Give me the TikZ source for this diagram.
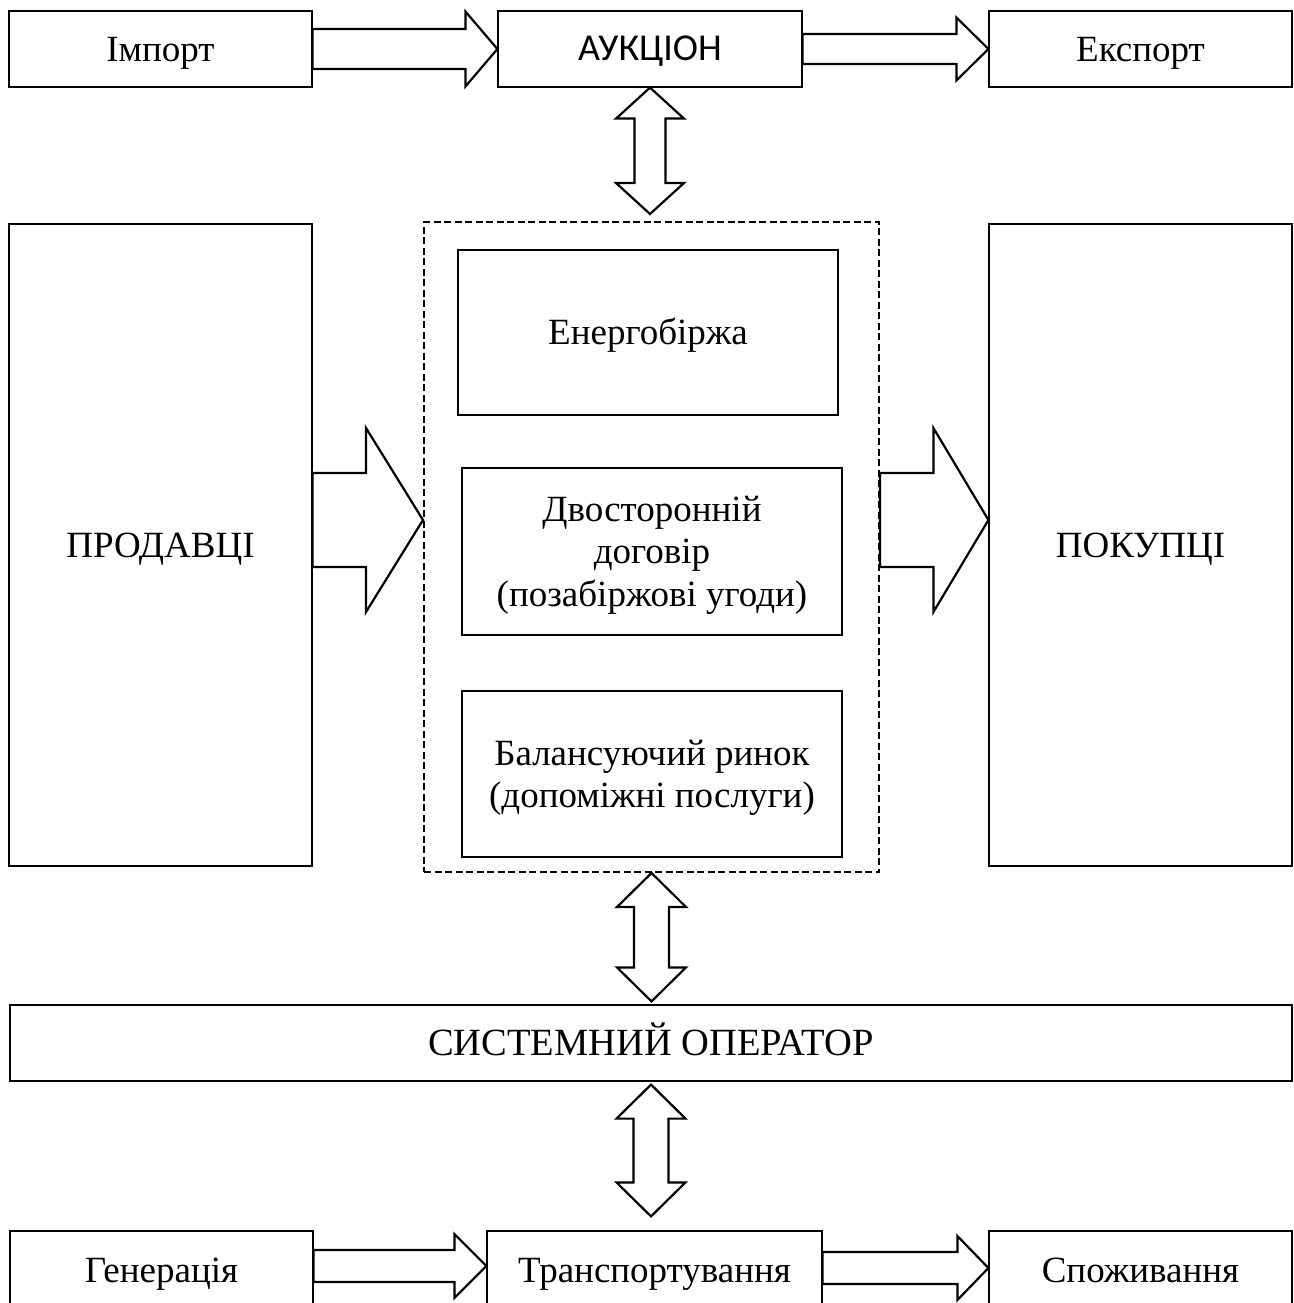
\documentclass[tikz,border=0pt]{standalone}
\usepackage{fontspec}
\setmainfont{Liberation Serif}
\newfontfamily\calib{Carlito}
\usetikzlibrary{calc}
\tikzset{
  box/.style={draw, line width=1.2pt, inner sep=0pt, align=center,
    font=\fontsize{37}{42.5}\selectfont, text height=24.5pt, text depth=0pt},
  twoline/.style={text height=67pt},
  threeline/.style={text height=109.5pt},
  hollow/.style={draw, line width=2.2pt, line join=miter, fill=white},
  dashbox/.style={draw, line width=2pt, dash pattern=on 7pt off 3.5pt, inner sep=0pt}
}
% horizontal hollow arrow: #1 start, #2 tip, #3 shaft half, #4 head half, #5 head length
\newcommand\harrow[5]{%
  \draw[hollow] let \p1=(#1), \p2=(#2) in
  (\x1,\y2+#3pt) -- (\x2-#5pt,\y2+#3pt) -- (\x2-#5pt,\y2+#4pt) -- (\x2,\y2)
  -- (\x2-#5pt,\y2-#4pt) -- (\x2-#5pt,\y2-#3pt) -- (\x1,\y2-#3pt) -- cycle;}
% vertical double hollow arrow: #1 top tip, #2 bottom tip, #3 shaft half, #4 head half, #5 head length
\newcommand\vdarrow[5]{%
  \draw[hollow] let \p1=(#1), \p2=(#2) in
  (\x1,\y1) -- (\x1+#4pt,\y1-#5pt) -- (\x1+#3pt,\y1-#5pt) -- (\x1+#3pt,\y2+#5pt)
  -- (\x1+#4pt,\y2+#5pt) -- (\x1,\y2) -- (\x1-#4pt,\y2+#5pt) -- (\x1-#3pt,\y2+#5pt)
  -- (\x1-#3pt,\y1-#5pt) -- (\x1-#4pt,\y1-#5pt) -- cycle;}
\begin{document}
\begin{tikzpicture}[x=1pt,y=-1pt]
\useasboundingbox[fill=white] (0,0) rectangle (1293,1303);
% top row
\node[box, minimum width=303pt, minimum height=76pt] (imp) at (160.5,49) {Імпорт};
\node[box, minimum width=304pt, minimum height=76pt, font=\calib\fontsize{38}{42}\selectfont, text height=23pt] (auk) at (650,49) {АУКЦІОН};
\node[box, minimum width=303pt, minimum height=76pt] (exp) at (1140.5,49) {Експорт};
% middle
\node[box, minimum width=303pt, minimum height=642pt] (prod) at (160.5,545) {ПРОДАВЦІ};
\node[box, minimum width=303pt, minimum height=642pt] (pok) at (1140.5,545) {ПОКУПЦІ};
\node[dashbox, minimum width=455pt, minimum height=650pt] (dash) at (651.5,547) {};
\node[box, minimum width=380pt, minimum height=165pt] (en) at (648,332.5) {Енергобіржа};
\node[box, threeline, minimum width=380pt, minimum height=167pt] (dv) at (652,551.5) {Двосторонній\\договір\\(позабіржові угоди)};
\node[box, twoline, minimum width=380pt, minimum height=166pt] (bal) at (652,774) {Балансуючий ринок\\(допоміжні послуги)};
% system operator
\node[box, minimum width=1282pt, minimum height=76pt, font=\fontsize{38.5}{42}\selectfont, text height=25.5pt] (so) at (651,1043) {СИСТЕМНИЙ ОПЕРАТОР};
% bottom row
\node[box, minimum width=303pt, minimum height=79pt] (gen) at (161.5,1270.5) {Генерація};
\node[box, minimum width=335pt, minimum height=79pt] (tr) at (654.5,1270.5) {Транспортування};
\node[box, minimum width=303pt, minimum height=79pt] (sp) at (1140.5,1270.5) {Споживання};
% arrows top row
\harrow{imp.east}{auk.west}{20}{37.5}{32}
\harrow{auk.east}{exp.west}{15}{31.5}{32}
% vertical arrows
\vdarrow{auk.south}{$(dash.north)+(0,-7)$}{15.5}{34}{31}
\vdarrow{dash.south}{$(so.north)+(0,-3)$}{17.5}{34.5}{34}
\vdarrow{$(so.south)+(0,3)$}{$(so.south |- tr.north)+(0,-14)$}{17.5}{34.5}{34}
% big arrows
\harrow{$(prod.east)+(0,-25)$}{$(dash.west)+(0,-27)$}{47}{92}{57}
\harrow{$(dash.east)+(0,-27)$}{$(pok.west)+(0,-25)$}{47}{92}{55}
% bottom arrows
\harrow{$(gen.east)+(0,-4.5)$}{$(tr.west)+(0,-4.5)$}{16}{32}{32}
\harrow{$(tr.east)+(0,-2.5)$}{$(sp.west)+(0,-2.5)$}{16}{32}{31}
\end{tikzpicture}
\end{document}
